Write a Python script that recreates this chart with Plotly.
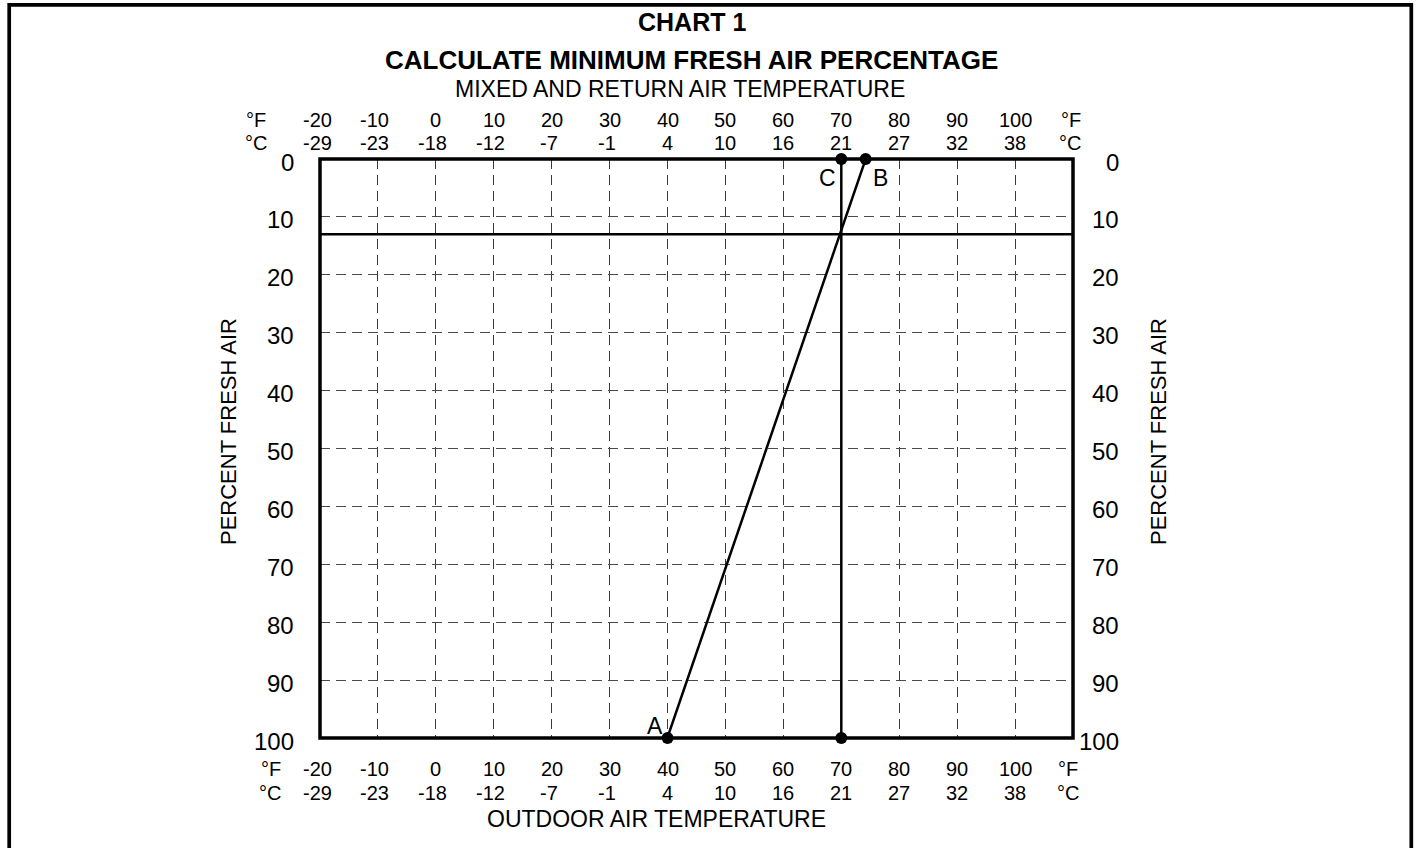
import plotly.graph_objects as go

# ---------------- data ----------------
f_ticks = [-20, -10, 0, 10, 20, 30, 40, 50, 60, 70, 80, 90, 100]
c_ticks = [-29, -23, -18, -12, -7, -1, 4, 10, 16, 21, 27, 32, 38]
pct_ticks = [0, 10, 20, 30, 40, 50, 60, 70, 80, 90, 100]

# sloped line A-B (outdoor temp vs percent fresh air), drawn slightly past the frame
ab_temp = [39.0, 75.1]
ab_pct = [102.8, -2.6]
# vertical line at return-air temperature
c_temp = [70, 70]
c_pct = [-1.5, 102.5]
# horizontal reading line
h_temp = [-20, 110]
h_pct = [13, 13]
# marked points
pt_temp = [70, 74.2, 40, 70]
pt_pct = [0, 0, 100, 100]
# point letters
lbl_text = ["A", "B", "C"]
lbl_temp = [37.9, 76.8, 67.7]
lbl_pct = [98.0, 3.3, 3.3]

# ---------------- layout geometry ----------------
W, H = 1416, 848
PL, PR, PT, PB = 320, 1073, 159, 738   # plot area in pixels
FONT = "Liberation Sans, Arial, sans-serif"


def px_x(px):
    return (px - PL) / (PR - PL)


def px_y(py):
    return (PB - py) / (PB - PT)


fig = go.Figure()

fig.add_trace(go.Scatter(x=h_temp, y=h_pct, mode="lines",
                         line=dict(color="black", width=2.5), hoverinfo="skip"))
fig.add_trace(go.Scatter(x=c_temp, y=c_pct, mode="lines",
                         line=dict(color="black", width=2.5), hoverinfo="skip",
                         cliponaxis=False))
fig.add_trace(go.Scatter(x=ab_temp, y=ab_pct, mode="lines",
                         line=dict(color="black", width=2.5), hoverinfo="skip",
                         cliponaxis=False))
fig.add_trace(go.Scatter(x=pt_temp, y=pt_pct, mode="markers",
                         marker=dict(color="black", size=12), hoverinfo="skip",
                         cliponaxis=False))

ann = []
# letters
for t, xx, yy in zip(lbl_text, lbl_temp, lbl_pct):
    ann.append(dict(x=xx, y=yy, xref="x", yref="y", text=t, showarrow=False,
                    font=dict(size=23, color="black", family=FONT)))

# x tick labels (top & bottom, F and C)
for f, c in zip(f_ticks, c_ticks):
    for py, txt in [(120, f), (143, c), (769, f), (793, c)]:
        ann.append(dict(x=f, y=px_y(py), xref="x", yref="paper", text=str(txt),
                        showarrow=False, xanchor="center", yanchor="middle",
                        xshift=-3 if txt < 0 else 0,
                        font=dict(size=20, color="black", family=FONT)))

# unit labels
for pxx, py, txt in [(256, 120, "°F"), (256, 143, "°C"), (1071, 120, "°F"), (1070, 143, "°C"),
                     (271, 769, "°F"), (270, 793, "°C"), (1068, 769, "°F"), (1068, 793, "°C")]:
    ann.append(dict(x=px_x(pxx), y=px_y(py), xref="paper", yref="paper", text=txt,
                    showarrow=False, xanchor="center", yanchor="middle",
                    font=dict(size=20, color="black", family=FONT)))

# y tick labels both sides
for p in pct_ticks:
    ann.append(dict(x=px_x(296), y=p, xref="paper", yref="y", text=str(p),
                    showarrow=False, xanchor="right", yanchor="middle", yshift=-3,
                    font=dict(size=24, color="black", family=FONT)))
    ann.append(dict(x=px_x(1121), y=p, xref="paper", yref="y", text=str(p),
                    showarrow=False, xanchor="right", yanchor="middle", yshift=-3,
                    font=dict(size=24, color="black", family=FONT)))

# axis titles
ann.append(dict(x=px_x(228), y=px_y(432), xref="paper", yref="paper",
                text="PERCENT FRESH AIR", textangle=-90, showarrow=False,
                xanchor="center", yanchor="middle",
                font=dict(size=22, color="black", family=FONT)))
ann.append(dict(x=px_x(1158), y=px_y(432), xref="paper", yref="paper",
                text="PERCENT FRESH AIR", textangle=-90, showarrow=False,
                xanchor="center", yanchor="middle",
                font=dict(size=22, color="black", family=FONT)))
ann.append(dict(x=px_x(656), y=px_y(819), xref="paper", yref="paper",
                text="OUTDOOR AIR TEMPERATURE", showarrow=False,
                xanchor="center", yanchor="middle",
                font=dict(size=23, color="black", family=FONT)))

# titles
ann.append(dict(x=px_x(692), y=px_y(22), xref="paper", yref="paper",
                text="<b>CHART 1</b>", showarrow=False, xanchor="center", yanchor="middle",
                font=dict(size=25, color="black", family=FONT)))
ann.append(dict(x=px_x(691), y=px_y(60), xref="paper", yref="paper",
                text="<b>CALCULATE MINIMUM FRESH AIR PERCENTAGE</b>", showarrow=False,
                xanchor="center", yanchor="middle",
                font=dict(size=26, color="black", family=FONT)))
ann.append(dict(x=px_x(680), y=px_y(89), xref="paper", yref="paper",
                text="MIXED AND RETURN AIR TEMPERATURE", showarrow=False,
                xanchor="center", yanchor="middle",
                font=dict(size=23, color="black", family=FONT)))

shapes = [
    # outer page frame
    dict(type="rect", xref="paper", yref="paper",
         x0=px_x(9.2), x1=px_x(1411.3), y0=px_y(860), y1=px_y(4.8),
         line=dict(color="black", width=3.7), fillcolor="rgba(0,0,0,0)", layer="above"),
    # plot frame
    dict(type="rect", xref="paper", yref="paper", x0=0, x1=1, y0=0, y1=1,
         line=dict(color="black", width=3.5), fillcolor="rgba(0,0,0,0)", layer="above"),
]

fig.update_layout(
    width=W, height=H,
    margin=dict(l=PL, r=W - PR, t=PT, b=H - PB, pad=0),
    paper_bgcolor="white", plot_bgcolor="white",
    showlegend=False,
    annotations=ann, shapes=shapes,
    font=dict(family=FONT, color="black"),
)
fig.update_xaxes(range=[-20, 110], tick0=-20, dtick=10, showticklabels=False,
                 showgrid=True, gridcolor="#3a3a3a", gridwidth=1.4, griddash="10px,6px",
                 zeroline=False, showline=False, ticks="", fixedrange=True)
fig.update_yaxes(range=[100, 0], tick0=0, dtick=10, showticklabels=False,
                 showgrid=True, gridcolor="#4a4a4a", gridwidth=1.4, griddash="10px,6px",
                 zeroline=False, showline=False, ticks="", fixedrange=True)

fig.write_html("out.html", config={"displayModeBar": False},
               post_script="document.body.style.margin='0px';document.body.style.overflow='hidden';")
